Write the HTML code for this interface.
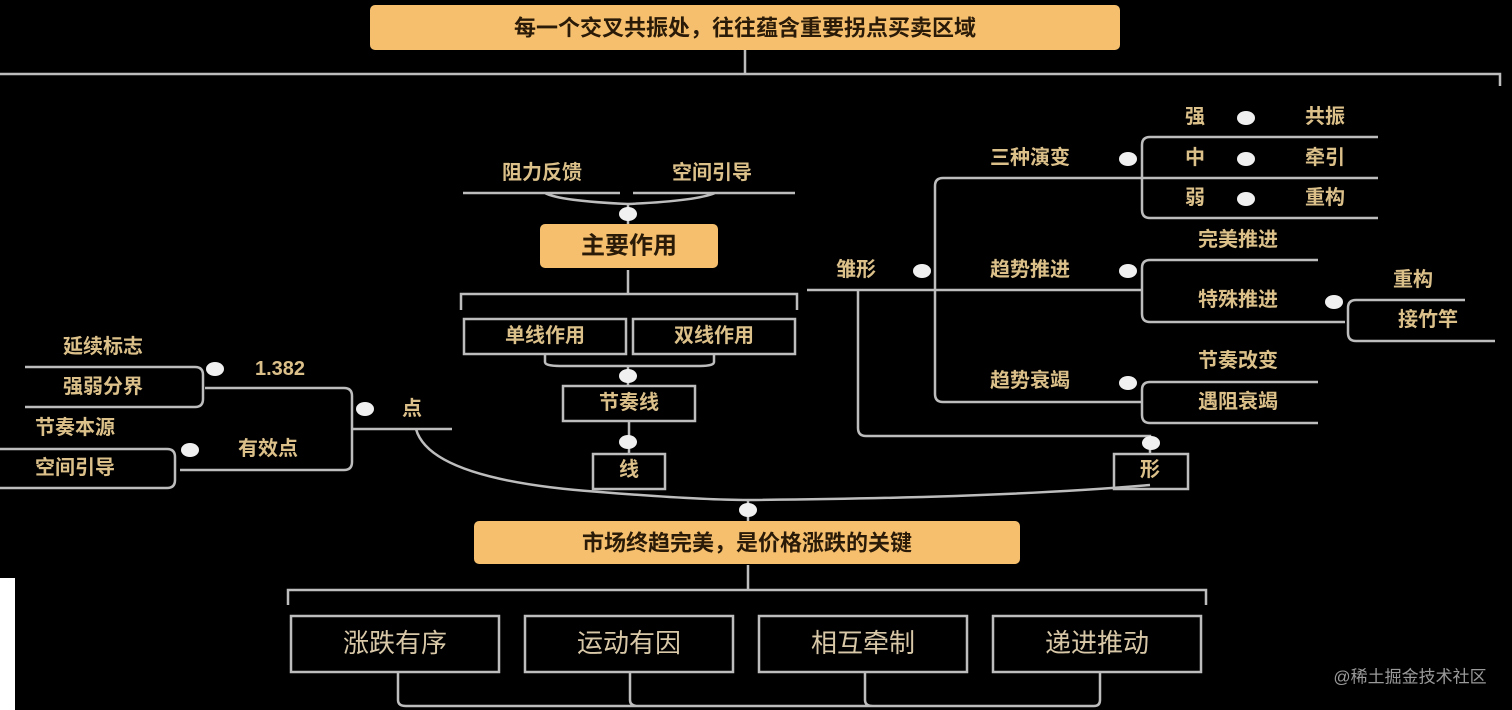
<!DOCTYPE html>
<html><head><meta charset="utf-8"><style>
html,body{margin:0;padding:0;background:#000;width:1512px;height:710px;overflow:hidden}
svg{display:block}
text{font-family:"Liberation Sans","Noto Sans CJK SC",sans-serif;fill:#dcc08a;font-size:20px;font-weight:bold;text-anchor:middle;dominant-baseline:central}
.d{fill:#2a1a08;font-size:22px}
.b{font-size:26px;font-weight:normal;fill:#d8c8a8}
</style></head><body>
<svg width="1512" height="710" viewBox="0 0 1512 710">
<g fill="none" stroke="#bdbdbd" stroke-width="2.5">
<!-- top -->
<path d="M745 50V74M0 74H1500V86"/>
<!-- middle top -->
<path d="M463 193H620M633 193H795M545 193Q560 201 628 204Q696 201 715 193M628 204V224"/>
<path d="M628 270V294M461 310V294H797V310"/>
<rect x="464" y="319" width="162" height="35"/>
<rect x="633" y="319" width="162" height="35"/>
<path d="M545 354V362Q545 366 560 366H700Q714 366 714 362V354M628 366V386"/>
<rect x="563" y="386" width="132" height="35"/>
<path d="M629 421V454"/>
<rect x="593" y="454" width="72" height="35"/>
<!-- left -->
<path d="M25 367H195Q203 367 203 375V399Q203 407 195 407H25"/>
<path d="M205 388H344Q352 388 352 396V462Q352 470 344 470H180"/>
<path d="M352 429H452"/>
<path d="M0 449H167Q175 449 175 457V480Q175 488 167 488H0"/>
<path d="M416 429Q430 480 600 492Q700 500 748 500Q1000 498 1150 485"/>
<path d="M748 500V521"/>
<!-- right -->
<path d="M807 290H1142"/>
<path d="M1142 178H943Q935 178 935 186V394Q935 402 943 402H1142"/>
<path d="M858 290V428Q858 436 866 436H1150V454"/>
<rect x="1114" y="454" width="74" height="35"/>
<path d="M1378 137H1150Q1142 137 1142 145V210Q1142 218 1150 218H1378M1142 178H1378"/>
<path d="M1318 260H1150Q1142 260 1142 268V314Q1142 322 1150 322H1345"/>
<path d="M1465 300H1356Q1348 300 1348 308V333Q1348 341 1356 341H1495"/>
<path d="M1318 382H1150Q1142 382 1142 390V415Q1142 423 1150 423H1318"/>
<!-- bottom -->
<path d="M748 565V590M288 605V590H1206V605"/>
<rect x="291" y="616" width="208" height="56"/>
<rect x="525" y="616" width="208" height="56"/>
<rect x="759" y="616" width="208" height="56"/>
<rect x="993" y="616" width="208" height="56"/>
<path d="M398 672V700Q398 706 406 706H1094Q1100 706 1100 700V672M630 672V700Q630 706 638 706M865 672V700Q865 706 873 706"/>
</g>
<g fill="#f0f0f0">
<ellipse cx="628" cy="214" rx="9" ry="7"/><ellipse cx="628" cy="376" rx="9" ry="7"/><ellipse cx="628" cy="442" rx="9" ry="7"/>
<ellipse cx="748" cy="510" rx="9" ry="7"/><ellipse cx="215" cy="369" rx="9" ry="7"/><ellipse cx="365" cy="409" rx="9" ry="7"/>
<ellipse cx="190" cy="450" rx="9" ry="7"/><ellipse cx="922" cy="271" rx="9" ry="7"/><ellipse cx="1151" cy="443" rx="9" ry="7"/>
<ellipse cx="1128" cy="159" rx="9" ry="7"/><ellipse cx="1128" cy="271" rx="9" ry="7"/><ellipse cx="1128" cy="383" rx="9" ry="7"/>
<ellipse cx="1246" cy="118" rx="9" ry="7"/><ellipse cx="1246" cy="159" rx="9" ry="7"/><ellipse cx="1246" cy="199" rx="9" ry="7"/>
<ellipse cx="1334" cy="302" rx="9" ry="7"/>
</g>
<rect x="370" y="5" width="750" height="45" rx="5" fill="#f5bf6e"/>
<text class="d" x="745" y="28">每一个交叉共振处，往往蕴含重要拐点买卖区域</text>
<rect x="540" y="224" width="178" height="44" rx="5" fill="#f5bf6e"/>
<text class="d" x="629" y="246" style="font-size:24px">主要作用</text>
<rect x="474" y="521" width="546" height="43" rx="5" fill="#f5bf6e"/>
<text class="d" x="747" y="543">市场终趋完美，是价格涨跌的关键</text>
<text x="542" y="173">阻力反馈</text><text x="712" y="173">空间引导</text>
<text x="545" y="336">单线作用</text><text x="714" y="336">双线作用</text>
<text x="629" y="403">节奏线</text><text x="629" y="470">线</text>
<text x="103" y="347">延续标志</text><text x="103" y="387">强弱分界</text>
<text x="280" y="369">1.382</text><text x="412" y="409">点</text>
<text x="75" y="428">节奏本源</text><text x="75" y="468">空间引导</text><text x="268" y="449">有效点</text>
<text x="856" y="270">雏形</text><text x="1150" y="470">形</text>
<text x="1030" y="158">三种演变</text><text x="1030" y="270">趋势推进</text><text x="1030" y="381">趋势衰竭</text>
<text x="1195" y="117">强</text><text x="1325" y="117">共振</text>
<text x="1195" y="158">中</text><text x="1325" y="158">牵引</text>
<text x="1195" y="198">弱</text><text x="1325" y="198">重构</text>
<text x="1238" y="240">完美推进</text><text x="1238" y="300">特殊推进</text>
<text x="1413" y="280">重构</text><text x="1428" y="320">接竹竿</text>
<text x="1238" y="361">节奏改变</text><text x="1238" y="402">遇阻衰竭</text>
<text class="b" x="395" y="643">涨跌有序</text><text class="b" x="629" y="643">运动有因</text>
<text class="b" x="863" y="643">相互牵制</text><text class="b" x="1097" y="643">递进推动</text>
<rect x="0" y="578" width="15" height="132" fill="#fff"/>
<text x="1410" y="677" style="font-size:17px;font-weight:normal;fill:#9a9a9a">@稀土掘金技术社区</text>
</svg>
</body></html>
